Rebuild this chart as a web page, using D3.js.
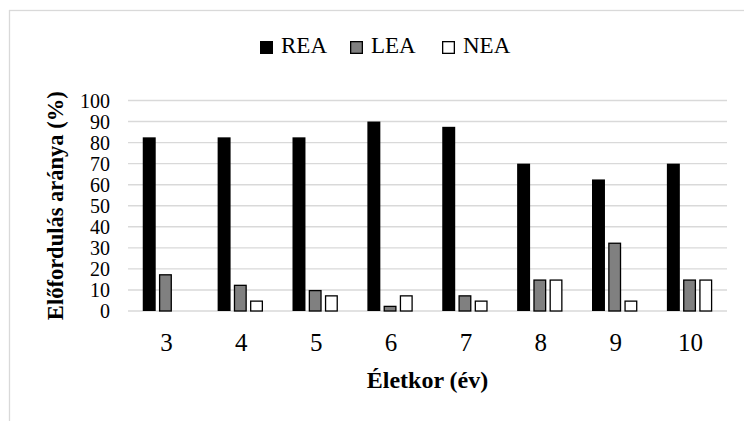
<!DOCTYPE html>
<html>
<head>
<meta charset="utf-8">
<script src="https://cdn.jsdelivr.net/npm/d3@7/dist/d3.min.js"></script>
<style>
  html, body { margin: 0; padding: 0; background: #fff; }
  svg { display: block; }
  svg text { font-family: "Liberation Serif", "Times New Roman", serif; }
</style>
</head>
<body>
<svg id="chart" width="744" height="421"></svg>
<script>
// Age groups (years)
const categories = ["3", "4", "5", "6", "7", "8", "9", "10"];
// Occurrence rate per age group (%)
const series = ["REA", "LEA", "NEA"];
const reaValues = [82.5, 82.5, 82.5, 90, 87.5, 70, 62.5, 70];
const leaValues = [17.5, 12.5, 10, 2.5, 7.5, 15, 32.5, 15];
const neaValues = [0, 5, 7.5, 7.5, 5, 15, 5, 15];
const yTicks = [0, 10, 20, 30, 40, 50, 60, 70, 80, 90, 100];

const valuesBySeries = { REA: reaValues, LEA: leaValues, NEA: neaValues };
const fills = { REA: "#000000", LEA: "#808080", NEA: "#ffffff" };
const strokeW = 1.3;
const fontFam = '"Liberation Serif"';

const svg = d3.select("#chart");

// chart-area frame
svg.append("rect")
  .attr("x", 9.5).attr("y", 10.5)
  .attr("width", 760).attr("height", 420)
  .attr("fill", "none").attr("stroke", "#d9d9d9").attr("stroke-width", 1.3);

const plot = { left: 128, right: 727, top: 100.5, bottom: 311 };

const x0 = d3.scaleBand().domain(categories).range([plot.left, plot.right]).padding(0);
const groupW = x0.bandwidth() * 0.606;
const x1 = d3.scaleBand().domain(series).range([0, groupW]).paddingInner(0.2).paddingOuter(0);
const y = d3.scaleLinear().domain([0, 100]).range([plot.bottom, plot.top]);

// gridlines
svg.append("g")
  .selectAll("line")
  .data(yTicks)
  .join("line")
  .attr("x1", plot.left).attr("x2", plot.right)
  .attr("y1", d => y(d)).attr("y2", d => y(d))
  .attr("stroke", "#d9d9d9").attr("stroke-width", 1.4);

// y tick labels
svg.selectAll("text.ytick")
  .data(yTicks)
  .join("text")
  .attr("class", "ytick")
  .attr("x", 110)
  .attr("y", d => y(d) + 7)
  .attr("text-anchor", "end")
  .style("font-family", fontFam)
  .style("font-size", "20px")
  .text(d => d);

// bars
const groups = svg.append("g")
  .selectAll("g")
  .data(categories)
  .join("g")
  .attr("transform", d => `translate(${x0(d) + (x0.bandwidth() - groupW) / 2},0)`);

groups.selectAll("rect")
  .data((c, i) => series.map(s => ({ s, v: valuesBySeries[s][i] })))
  .join("rect")
  .filter(d => d.v > 0)
  .attr("x", d => x1(d.s) + (d.s === "REA" ? 0 : strokeW / 2))
  .attr("width", d => x1.bandwidth() - (d.s === "REA" ? 0 : strokeW))
  .attr("y", d => y(d.v) + (d.s === "REA" ? 0 : strokeW / 2))
  .attr("height", d => y(0) - y(d.v) - (d.s === "REA" ? 0 : strokeW / 2))
  .attr("fill", d => fills[d.s])
  .attr("stroke", d => d.s === "REA" ? "none" : "#000")
  .attr("stroke-width", strokeW);

// x tick labels
svg.selectAll("text.xtick")
  .data(categories)
  .join("text")
  .attr("class", "xtick")
  .attr("x", d => x0(d) + x0.bandwidth() / 2 + 1)
  .attr("y", 351)
  .attr("text-anchor", "middle")
  .style("font-family", fontFam)
  .style("font-size", "25px")
  .text(d => d);

// axis titles
svg.append("text")
  .attr("x", (plot.left + plot.right) / 2)
  .attr("y", 388)
  .attr("text-anchor", "middle")
  .style("font-family", fontFam)
  .style("font-size", "24px")
  .style("font-weight", "bold")
  .text("Életkor (év)");

svg.append("text")
  .attr("transform", `translate(63,${(plot.top + plot.bottom) / 2}) rotate(-90)`)
  .attr("text-anchor", "middle")
  .style("font-family", fontFam)
  .style("font-size", "22.5px")
  .style("font-weight", "bold")
  .text("Előfordulás aránya (%)");

// legend
const legendX = [260, 350, 442];
const legend = svg.append("g")
  .selectAll("g")
  .data(series)
  .join("g")
  .attr("transform", (d, i) => `translate(${legendX[i]},41)`);

legend.append("rect")
  .attr("x", d => d === "REA" ? 0 : strokeW / 2)
  .attr("y", d => d === "REA" ? 0 : strokeW / 2)
  .attr("width", d => d === "REA" ? 13 : 13 - strokeW)
  .attr("height", d => d === "REA" ? 13 : 13 - strokeW)
  .attr("fill", d => fills[d])
  .attr("stroke", d => d === "REA" ? "none" : "#000")
  .attr("stroke-width", strokeW);

legend.append("text")
  .attr("x", 21)
  .attr("y", 12.3)
  .style("font-family", fontFam)
  .style("font-size", "23px")
  .text(d => d);
</script>
</body>
</html>
